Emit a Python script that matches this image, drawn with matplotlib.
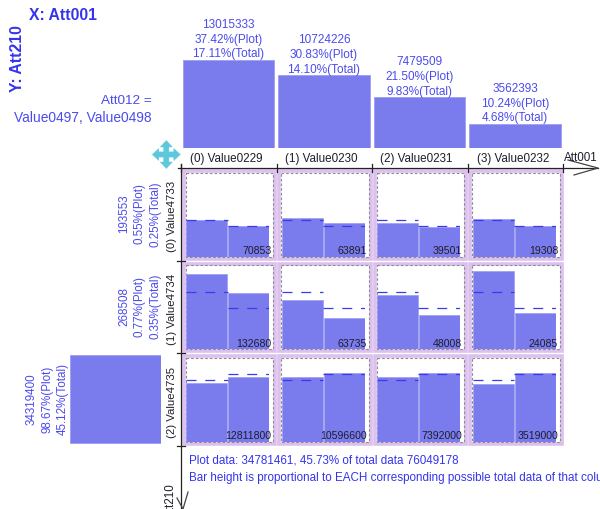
import matplotlib
matplotlib.use("Agg")
import matplotlib.pyplot as plt
from matplotlib.patches import Rectangle, Polygon

plt.rcParams['font.family'] = ['Liberation Sans', 'DejaVu Sans']

# ---- data ----
x_labels = ["(0) Value0229", "(1) Value0230", "(2) Value0231", "(3) Value0232"]
y_labels = ["(0) Value4733", "(1) Value4734", "(2) Value4735"]
x_totals = [13015333, 10724226, 7479509, 3562393]
x_plot_pct = ["37.42%(Plot)", "30.83%(Plot)", "21.50%(Plot)", "10.24%(Plot)"]
x_total_pct = ["17.11%(Total)", "14.10%(Total)", "9.83%(Total)", "4.68%(Total)"]
y_totals = [193553, 268508, 34319400]
y_plot_pct = ["0.55%(Plot)", "0.77%(Plot)", "98.67%(Plot)"]
y_total_pct = ["0.25%(Total)", "0.35%(Total)", "45.12%(Total)"]
cell_counts = [[70853, 63891, 39501, 19308],
               [132680, 63735, 48008, 24085],
               [12811800, 10596600, 7392000, 3519000]]
# bar heights as a share of each cell's full height [left bar, right bar]
cell_heights = [[[0.440, 0.369], [0.460, 0.393], [0.393, 0.349], [0.448, 0.369]],
                [[0.889, 0.667], [0.588, 0.365], [0.648, 0.401], [0.933, 0.425]],
                [[0.702, 0.765], [0.765, 0.817], [0.765, 0.817], [0.690, 0.817]]]
# dashed reference levels per row [left, right]
row_levels = [[0.435, 0.369], [0.683, 0.493], [0.738, 0.798]]

BAR = '#7A7BEC'
BAR_EDGE = '#9C9DF2'
PURPLE = '#DCC0EE'
BLUE = '#4B4BEE'
DARK = '#1E1E2A'
W, H = 600, 509

fig = plt.figure(figsize=(W / 100, H / 100), dpi=100, facecolor='white')


def px_axes(x0, y0, x1, y1, z=2):
    ax = fig.add_axes([x0 / W, 1 - y1 / H, (x1 - x0) / W, (y1 - y0) / H], zorder=z)
    ax.axis('off')
    return ax


# background layer in pixel coordinates: frames
bg = px_axes(0, 0, W, H, z=1)
bg.set_xlim(0, W)
bg.set_ylim(H, 0)

col_frames = [(183.5, 274.5), (279, 370.5), (374.5, 465.5), (470, 561.5)]
row_frames = [(171, 258.5), (263.5, 351), (356, 443.5)]
for fx0, fx1 in col_frames:
    for fy0, fy1 in row_frames:
        bg.add_patch(Rectangle((fx0, fy0), fx1 - fx0, fy1 - fy0, fc='white', ec=PURPLE, lw=2.6))
        bg.add_patch(Rectangle((fx0 + 2, fy0 + 1.8), fx1 - fx0 - 4, fy1 - fy0 - 3.6, fc='none',
                               ec='#8E8E8E', lw=0.8, ls=(0, (2.4, 1.8))))

# top marginal bars
top = px_axes(180.8, 59.5, 562.7, 148)
top.bar(range(4), x_totals, width=0.958, color=BAR, edgecolor=BAR_EDGE, linewidth=0.6)
top.set_xlim(-0.5, 3.5)
top.set_ylim(0, max(x_totals))
for i, v in enumerate(x_totals):
    for off, s in zip((5.5, 20, 35), (x_total_pct[i], x_plot_pct[i], str(v))):
        top.annotate(s, (i, v), xytext=(0, off * 0.72), textcoords='offset points', ha='center',
                     va='center', fontsize=8.5, color=BLUE, annotation_clip=False)

# left marginal bar (the two small rows are under one pixel wide and do not show)
left = px_axes(69.5, 169, 160.5, 445)
left.barh([2], y_totals[2:], height=0.958, color=BAR, edgecolor=BAR_EDGE, linewidth=0.6)
left.set_xlim(max(y_totals), 0)
left.set_ylim(2.5, -0.5)

# cells
col_left = [186, 281.7, 376.7, 472.7]
row_base = [256.5, 349, 441.5]
for r, base in enumerate(row_base):
    for c, xl in enumerate(col_left):
        ax = px_axes(xl, base - 84, xl + 83.3, base, z=3)
        ax.bar([0, 1], cell_heights[r][c], width=0.985, color=BAR, edgecolor=BAR_EDGE, linewidth=0.5)
        for k in (0, 1):
            ax.plot([k - 0.5, k + 0.5], [row_levels[r][k]] * 2, color='#3A3AF0', lw=0.9,
                    ls=(0, (8, 7)), zorder=5)
        ax.set_xlim(-0.5, 1.5)
        ax.set_ylim(0, 1)
        ax.text(1.55, 0.06, str(cell_counts[r][c]), ha='right', va='center', fontsize=7.6, color=DARK,
                clip_on=False, zorder=6)

# overlay layer in pixel coordinates: axes, arrows, texts
ov = px_axes(0, 0, W, H, z=4)
ov.set_xlim(0, W)
ov.set_ylim(H, 0)
AX = '#222222'
ov.plot([178, 598], [168, 168], color=AX, lw=0.9)
ov.plot([181, 181], [164, H], color=AX, lw=0.9)
for x in (181, 276.7, 372, 467.7, 563.3):
    ov.plot([x, x], [164, 172], color=AX, lw=0.9)
for y in (261, 353.3, 446):
    ov.plot([177, 185], [y, y], color=AX, lw=0.9)
ov.plot([568, 598, 574], [160, 168, 175], color='#444444', lw=0.9)
ov.plot([177, 183, 188], [498, 509, 492], color='#444444', lw=0.9)

# move icon
cx, cy = 166.3, 154.5
TEAL = '#5CC8DA'
a, b, s, hl = 14, 6, 2.6, 6.5
for dx, dy in ((1, 0), (-1, 0), (0, 1), (0, -1)):
    px, py = -dy, dx
    ov.add_patch(Polygon([(cx + dx * a, cy + dy * a),
                          (cx + dx * (a - hl) + px * b, cy + dy * (a - hl) + py * b),
                          (cx + dx * (a - hl) + px * s, cy + dy * (a - hl) + py * s),
                          (cx + px * s, cy + py * s),
                          (cx - px * s, cy - py * s),
                          (cx + dx * (a - hl) - px * s, cy + dy * (a - hl) - py * s),
                          (cx + dx * (a - hl) - px * b, cy + dy * (a - hl) - py * b)],
                         closed=True, fc=TEAL, ec=TEAL, lw=0.3))

TITLE = '#3434EE'
ov.text(29, 15, "X: Att001", fontsize=11.3, fontweight='bold', color=TITLE, ha='left', va='center')
ov.text(17, 59, "Y: Att210", fontsize=11.3, fontweight='bold', color=TITLE, rotation=90, ha='center', va='center')
ov.text(151.5, 100.5, "Att012 =", fontsize=9.7, color=BLUE, ha='right', va='center')
ov.text(151.5, 118, "Value0497, Value0498", fontsize=9.9, color=BLUE, ha='right', va='center')

for cxp, s in zip((226, 321.5, 416.7, 512.7), x_labels):
    ov.text(cxp, 159, s, fontsize=8.4, color=DARK, ha='center', va='center')
ov.text(580.5, 158, "Att001", fontsize=8.4, color=DARK, ha='center', va='center')
ov.text(170.5, 500, "Att210", fontsize=8.4, color=DARK, rotation=90, ha='center', va='center')

for cyp, s in zip((216, 309, 402), y_labels):
    ov.text(172, cyp, s, fontsize=8.2, color=DARK, rotation=90, ha='center', va='center')
for i, cyp in enumerate((214, 306.7, 399)):
    xs = (124, 140, 155) if i < 2 else (32, 48, 63)
    for xp, s in zip(xs, (str(y_totals[i]), y_plot_pct[i], y_total_pct[i])):
        ov.text(xp, cyp, s, fontsize=8.4, color=BLUE, rotation=90, ha='center', va='center')

ov.text(189, 460.5, "Plot data: 34781461, 45.73% of total data 76049178", fontsize=8.4, color=TITLE,
        ha='left', va='center')
ov.text(189, 478, "Bar height is proportional to EACH corresponding possible total data of that column",
        fontsize=8.4, color=TITLE, ha='left', va='center', clip_on=True)

fig.savefig('out.png', dpi=100)
